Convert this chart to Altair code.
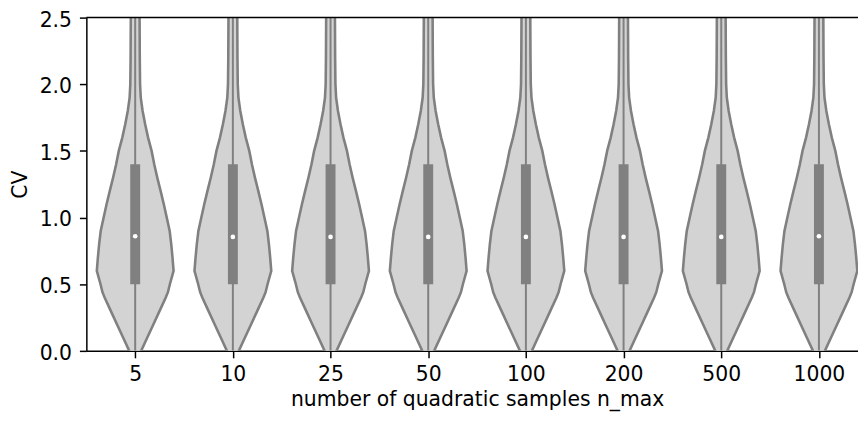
import altair as alt
import pandas as pd

# categories on the x axis
categories = ["5", "10", "25", "50", "100", "200", "500", "1000"]

# inner box statistics per category (CV units)
median_cv = [0.86, 0.855, 0.855, 0.855, 0.855, 0.855, 0.855, 0.86]
q1_cv = [0.50, 0.50, 0.50, 0.50, 0.50, 0.50, 0.50, 0.50]
q3_cv = [1.40, 1.40, 1.40, 1.40, 1.40, 1.40, 1.40, 1.40]
whisker_low = [0.0, 0.0, 0.0, 0.0, 0.0, 0.0, 0.0, 0.0]
whisker_high = [2.75, 2.75, 2.75, 2.75, 2.75, 2.75, 2.75, 2.75]

# violin outline: half-width (fraction of category slot) at each CV level
profile_cv = [-0.05, 0.0, 0.1, 0.2, 0.3, 0.4, 0.44, 0.5, 0.6, 0.7, 0.8, 0.9,
              1.0, 1.1, 1.2, 1.3, 1.4, 1.5, 1.6, 1.7, 1.8, 1.9, 2.0, 2.2,
              2.5, 2.7]
profile_halfwidth = [0.030, 0.061, 0.124, 0.187, 0.250, 0.313, 0.335, 0.355,
                     0.393, 0.382, 0.369, 0.353, 0.323, 0.293, 0.260, 0.226,
                     0.195, 0.168, 0.132, 0.102, 0.076, 0.057, 0.050, 0.047,
                     0.045, 0.044]

rows = []
for i, c in enumerate(categories):
    for y, w in zip(profile_cv, profile_halfwidth):
        rows.append({"cat": c, "idx": i, "cv": y, "lo": i - w, "hi": i + w})
violin_df = pd.DataFrame(rows)

box_df = pd.DataFrame({
    "cat": categories,
    "idx": list(range(len(categories))),
    "med": median_cv,
    "q1": q1_cv,
    "q3": q3_cv,
    "wlo": whisker_low,
    "whi": whisker_high,
})

x_scale = alt.Scale(domain=[-0.5, 7.4], nice=False, zero=False)
y_scale = alt.Scale(domain=[0, 2.5], nice=False, zero=False)
label_expr = "[" + ",".join(f"'{c}'" for c in categories) + "][datum.value]"

x_axis = alt.Axis(values=list(range(len(categories))), labelExpr=label_expr,
                  title="number of quadratic samples n_max", grid=False,
                  labelPadding=7, titlePadding=5, labelFlush=False,
                  titleX=394)
y_axis = alt.Axis(values=[0, 0.5, 1.0, 1.5, 2.0, 2.5], format=".1f",
                  title="CV", grid=False, labelPadding=8, titlePadding=9,
                  labelOffset=2.5)

violin = alt.Chart(violin_df).mark_area(
    fill="#d3d3d3", stroke="#808080", strokeWidth=2.6,
    clip=True, opacity=1
).encode(
    y=alt.Y("cv:Q", scale=y_scale, axis=y_axis),
    x=alt.X("lo:Q", scale=x_scale, axis=x_axis),
    x2="hi:Q",
    detail="cat:N",
)

whisker = alt.Chart(box_df).mark_rule(color="#808080", strokeWidth=2.0, clip=True).encode(
    x=alt.X("idx:Q", scale=x_scale), y=alt.Y("wlo:Q", scale=y_scale), y2="whi:Q"
)

box = alt.Chart(box_df).mark_rule(color="#808080", strokeWidth=10, strokeCap="butt").encode(
    x=alt.X("idx:Q", scale=x_scale), y=alt.Y("q1:Q", scale=y_scale), y2="q3:Q"
)

median = alt.Chart(box_df).mark_point(filled=True, color="white", size=22, opacity=1,
                                      shape="circle").encode(
    x=alt.X("idx:Q", scale=x_scale), y=alt.Y("med:Q", scale=y_scale)
)

top_spine = alt.Chart(pd.DataFrame({"top": [2.5]})).mark_rule(
    color="black", strokeWidth=1.5
).encode(y=alt.Y("top:Q", scale=y_scale))

chart = alt.layer(violin, whisker, box, median, top_spine).properties(
    width=778, height=336,
    autosize=alt.AutoSizeParams(type="none"),
    padding={"left": 79, "top": 8, "right": 0, "bottom": 66},
).configure_view(stroke=None).configure_axis(
    labelFont="DejaVu Sans", titleFont="DejaVu Sans",
    labelFontSize=20.5, titleFontSize=20.5, titleFontWeight="normal",
    labelColor="black", titleColor="black",
    domainColor="black", tickColor="black",
    domainWidth=1.5, tickWidth=1.5, tickSize=7, zindex=1,
)

chart.save("out.html", embed_options={"renderer": "svg", "actions": False})
